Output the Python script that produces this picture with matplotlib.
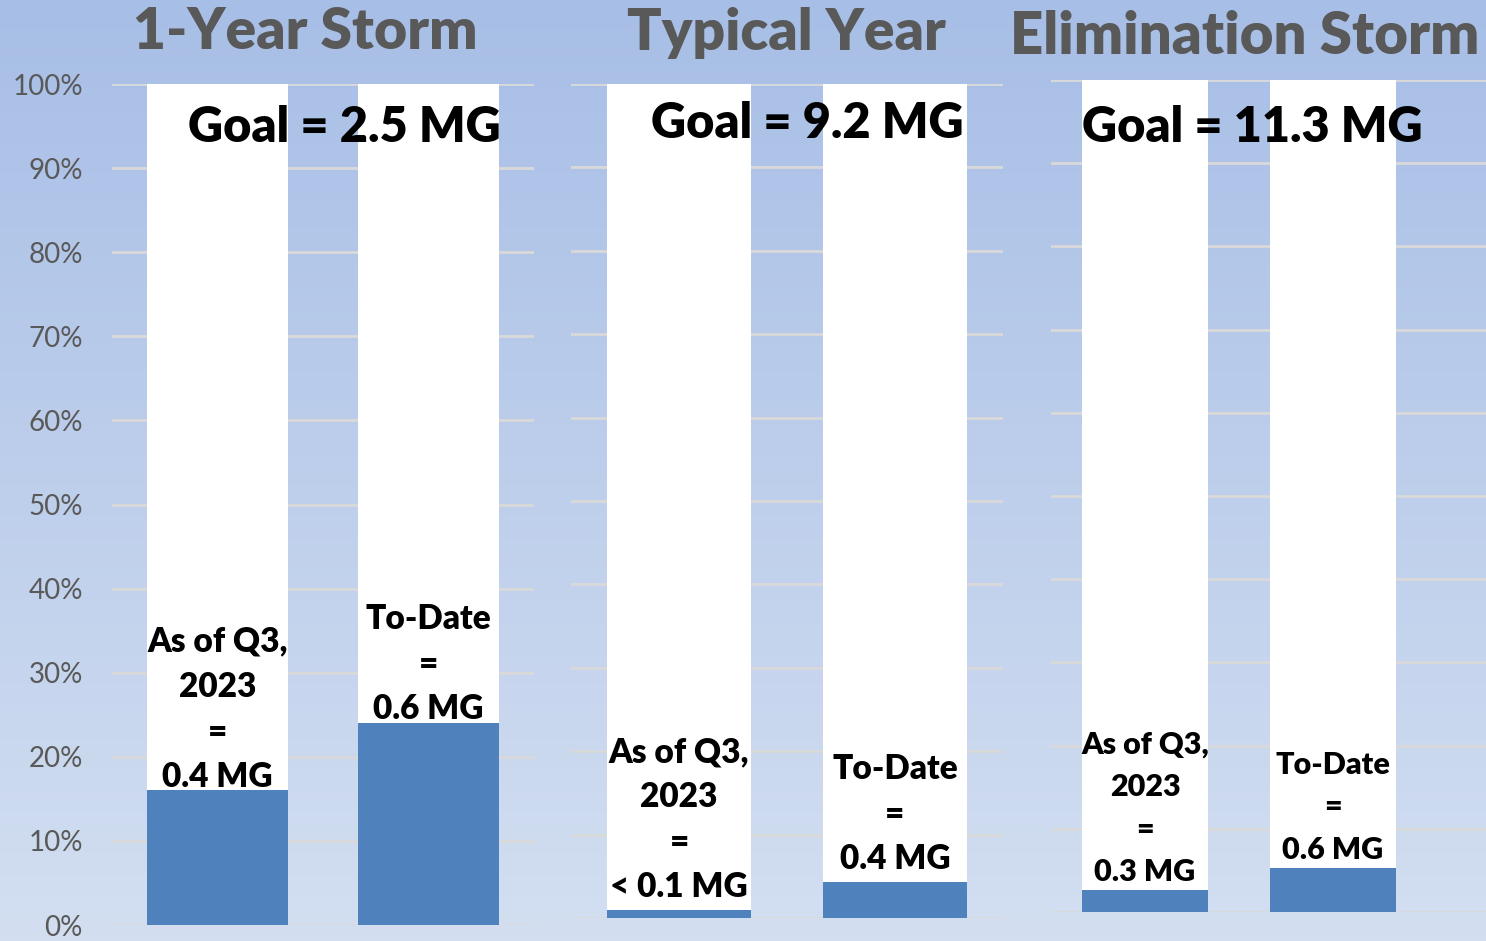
import matplotlib.pyplot as plt
import numpy as np
from matplotlib.colors import LinearSegmentedColormap

panel_titles = ["1-Year Storm", "Typical Year", "Elimination Storm"]
goals_mg = [2.5, 9.2, 11.3]
q3_mg = [0.4, 0.09, 0.3]
to_date_mg = [0.6, 0.4, 0.6]
goal_labels = ["Goal = 2.5 MG", "Goal = 9.2 MG", "Goal = 11.3 MG"]
q3_labels = ["As of Q3,\n2023\n=\n0.4 MG", "As of Q3,\n2023\n=\n< 0.1 MG", "As of Q3,\n2023\n=\n0.3 MG"]
to_date_labels = ["To-Date\n=\n0.6 MG", "To-Date\n=\n0.4 MG", "To-Date\n=\n0.6 MG"]
y_ticks = np.arange(0, 1.01, 0.1)

BLUE = "#4F81BD"
GRID = "#D9D9D9"
GREY = "#595959"
FONT = "Lato"

fig = plt.figure(figsize=(14.86, 9.41), dpi=100)

# gradient background
bg = fig.add_axes([0, 0, 1, 1], zorder=-10)
cmap = LinearSegmentedColormap.from_list("bg", ["#D3DFF1", "#A7BEE6"])
bg.imshow(np.linspace(0, 1, 256).reshape(-1, 1), cmap=cmap, aspect="auto",
          origin="lower", extent=[0, 1, 0, 1])
bg.set_axis_off()

# axes rectangles (left, bottom, width, height) and right x-limit
rects = [[0.0754, 0.0170, 0.2840, 0.8937],
         [0.3843, 0.0244, 0.2907, 0.8863],
         [0.7073, 0.0308, 0.2927, 0.8842]]
xmax = [1.5, 1.5, 1.814]
title_pos = [(0.0895, 0.966), (0.422, 0.965), (0.6795, 0.961)]
title_size = [41, 41, 41.8]
goal_pos = [(0.2315, 0.865), (0.543, 0.869), (0.843, 0.865)]
label_size = [24, 24, 22]
label_spacing = [1.5, 1.5, 1.62]
label_offset = [-1.5, 5, 3]

for i in range(3):
    ax = fig.add_axes(rects[i])
    ax.set_facecolor("none")
    x = np.arange(2)
    vals = np.array([q3_mg[i], to_date_mg[i]]) / goals_mg[i]
    ax.bar(x, vals, width=0.67, color=BLUE, zorder=3)
    ax.bar(x, 1 - vals, bottom=vals, width=0.67, color="white", zorder=3)
    ax.set_xlim(-0.5, xmax[i])
    ax.set_ylim(0, 1)
    ax.set_yticks(y_ticks)
    ax.yaxis.grid(True, color=GRID, lw=2)
    ax.set_axisbelow(True)
    ax.set_xticks([])
    ax.tick_params(axis="y", length=0, pad=21)
    if i == 0:
        ax.set_yticklabels([f"{int(round(t * 100))}%" for t in y_ticks],
                           color=GREY, fontsize=20, fontname=FONT)
    else:
        ax.set_yticklabels([])
    for s in ax.spines.values():
        s.set_visible(False)

    for xi, v, lab in zip(x, vals, [q3_labels[i], to_date_labels[i]]):
        ax.annotate(lab, (xi, v), xytext=(0, label_offset[i]),
                    textcoords="offset points", ha="center", va="bottom",
                    fontsize=label_size[i], fontweight="heavy", fontname=FONT,
                    linespacing=label_spacing[i], zorder=5)

    fig.text(*title_pos[i], panel_titles[i], ha="left", va="center",
             fontsize=title_size[i], fontweight="heavy", color=GREY,
             fontname=FONT)
    fig.text(*goal_pos[i], goal_labels[i], ha="center", va="center",
             fontsize=35, fontweight="heavy", color="black", fontname=FONT)

fig.savefig("out.png", dpi=100)
